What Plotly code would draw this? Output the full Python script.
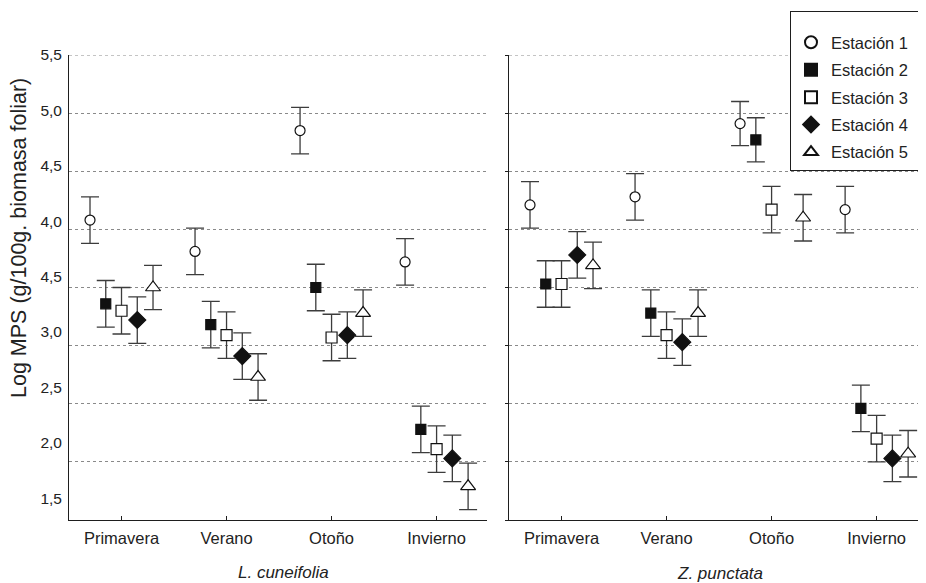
import plotly.graph_objects as go

# ---------------- data ----------------
seasons = ["Primavera", "Verano", "Otoño", "Invierno"]
stations = ["Estación 1", "Estación 2", "Estación 3", "Estación 4", "Estación 5"]
ytick_vals = [1.5, 2.0, 2.5, 3.0, 3.5, 4.0, 4.5, 5.0, 5.5]
ytick_text = ["1,5", "2,0", "2,5", "3,0", "4,5", "4,0", "4,5", "5,0", "5,5"]

# L. cuneifolia : mean per station x season
lc_st1 = [4.08, 3.81, 4.85, 3.72]
lc_st2 = [3.36, 3.18, 3.50, 2.28]
lc_st3 = [3.30, 3.09, 3.07, 2.11]
lc_st4 = [3.22, 2.91, 3.09, 2.03]
lc_st5 = [3.50, 2.73, 3.28, 1.79]
lc_err1 = [0.20, 0.20, 0.20, 0.20]
lc_err2 = [0.20, 0.20, 0.20, 0.20]
lc_err3 = [0.20, 0.20, 0.20, 0.20]
lc_err4 = [0.20, 0.20, 0.20, 0.20]
lc_err5 = [0.19, 0.20, 0.20, 0.20]

# Z. punctata
zp_st1 = [4.21, 4.28, 4.91, 4.17]
zp_st2 = [3.53, 3.28, 4.77, 2.46]
zp_st3 = [3.53, 3.09, 4.17, 2.20]
zp_st4 = [3.78, 3.03, None, 2.03]
zp_st5 = [3.69, 3.28, 4.10, 2.07]
zp_err1 = [0.20, 0.20, 0.19, 0.20]
zp_err2 = [0.20, 0.20, 0.19, 0.20]
zp_err3 = [0.20, 0.20, 0.20, 0.20]
zp_err4 = [0.20, 0.20, 0.20, 0.20]
zp_err5 = [0.20, 0.20, 0.20, 0.20]

# ---------------- styling ----------------
FONT = "Liberation Sans, Arial, Helvetica, sans-serif"
INK = "#1e1e1e"
ERR = "#3c3c3c"
GRID = "#8a8a8a"
offsets = [-0.30, -0.15, 0.0, 0.15, 0.30]
styles = [
    dict(symbol="circle", color="white", size=10),
    dict(symbol="square", color="#111111", size=10),
    dict(symbol="square", color="white", size=11),
    dict(symbol="diamond", color="#111111", size=13),
    dict(symbol="triangle-up", color="white", size=13),
]

fig = go.Figure()

panels = [
    ("x", "y", [lc_st1, lc_st2, lc_st3, lc_st4, lc_st5],
     [lc_err1, lc_err2, lc_err3, lc_err4, lc_err5], True),
    ("x2", "y2", [zp_st1, zp_st2, zp_st3, zp_st4, zp_st5],
     [zp_err1, zp_err2, zp_err3, zp_err4, zp_err5], False),
]

for xa, ya, series, errs, show in panels:
    for i, (vals, err) in enumerate(zip(series, errs)):
        st = styles[i]
        xs = [k + offsets[i] for k in range(len(seasons))]
        fig.add_trace(go.Scatter(
            x=xs, y=vals, xaxis=xa, yaxis=ya, mode="markers",
            name=stations[i], showlegend=show, legendgroup=stations[i],
            marker=dict(symbol=st["symbol"], color=st["color"], size=st["size"],
                        line=dict(color="#111111", width=1.2)),
            error_y=dict(type="data", array=err, visible=True, color=ERR,
                         thickness=1.3, width=9),
            cliponaxis=False,
        ))

# empty trace so the label-only axis (y3) is drawn
fig.add_trace(go.Scatter(x=[None], y=[None], xaxis="x", yaxis="y3",
                         mode="markers", showlegend=False, hoverinfo="skip"))

# page body has an 8px margin: lay the figure out in screen pixels minus 8
OFF = 8
W, H = 926 - OFF, 583 - OFF
plot_l = 69 - OFF
plot_t = 55 - OFF
plot_b = 520 - OFF
plot_w = W - plot_l
plot_h = plot_b - plot_t

def px(xpix):
    return (xpix - OFF - plot_l) / plot_w

def py(ypix):
    return 1 - (ypix - OFF - plot_t) / plot_h

xcommon = dict(
    tickvals=[0, 1, 2, 3], ticktext=seasons, showgrid=False, zeroline=False,
    showline=True, linecolor=INK, linewidth=1.3, ticks="inside", ticklen=4,
    tickcolor=INK, ticklabelstandoff=3,
    tickfont=dict(family=FONT, size=16.5, color="#222"),
)
ycommon = dict(
    range=[1.5, 5.5], tickvals=ytick_vals, showgrid=True, gridcolor=GRID,
    griddash="3px,3px", gridwidth=1, zeroline=False, showline=True,
    linecolor=INK, linewidth=1.3, showticklabels=False,
)

# dashed top gridline (5,5) in each panel
top_lines = [
    dict(type="line", xref="x domain", yref="y", x0=0, x1=1, y0=5.5, y1=5.5,
         line=dict(color=GRID, width=1, dash="3px,3px"), layer="below"),
    dict(type="line", xref="x2 domain", yref="y2", x0=0, x1=1, y0=5.5, y1=5.5,
         line=dict(color=GRID, width=1, dash="3px,3px"), layer="below"),
]

fig.update_layout(
    width=W, height=H,
    margin=dict(l=plot_l, r=0, t=plot_t, b=H - plot_b, autoexpand=False),
    paper_bgcolor="white", plot_bgcolor="white",
    font=dict(family=FONT, color="#222"),
    xaxis=dict(domain=[0, px(487)], range=[-0.5, 3.48], **xcommon),
    xaxis2=dict(domain=[px(509), 1], range=[-0.5, 3.47], anchor="y2", **xcommon),
    yaxis=dict(ticks="", **ycommon),
    yaxis2=dict(anchor="x2", ticks="outside", ticklen=3, tickcolor=INK, **ycommon),
    # tick labels of the original sit on their own, slightly tighter scale
    yaxis3=dict(overlaying="y", anchor="x", side="left", range=[1.304, 5.5],
                tickvals=ytick_vals, ticktext=ytick_text, showgrid=False,
                zeroline=False, showline=False, ticks="", ticklabelstandoff=6,
                tickfont=dict(family=FONT, size=15.5, color="#222")),
    shapes=top_lines,
    showlegend=True,
    legend=dict(
        x=px(790), y=py(11), xanchor="left", yanchor="top",
        bgcolor="white", bordercolor=INK, borderwidth=1,
        font=dict(family=FONT, size=16.5, color="#222"),
        itemsizing="constant", tracegroupgap=3,
        title=dict(text="&nbsp;" * 46, font=dict(size=10)),
    ),
    annotations=[
        dict(text="Log MPS (g/100g. biomasa foliar)", textangle=-90,
             x=px(19), y=py(238), xref="paper", yref="paper",
             xanchor="center", yanchor="middle", showarrow=False,
             font=dict(family=FONT, size=21.5, color="#222")),
        dict(text="<i>L. cuneifolia</i>", x=px(283), y=py(572),
             xref="paper", yref="paper", xanchor="center", yanchor="middle",
             showarrow=False, font=dict(family=FONT, size=17, color="#222")),
        dict(text="<i>Z. punctata</i>", x=px(719.5), y=py(573),
             xref="paper", yref="paper", xanchor="center", yanchor="middle",
             showarrow=False, font=dict(family=FONT, size=17, color="#222")),
    ],
)

fig.write_html("out.html")
